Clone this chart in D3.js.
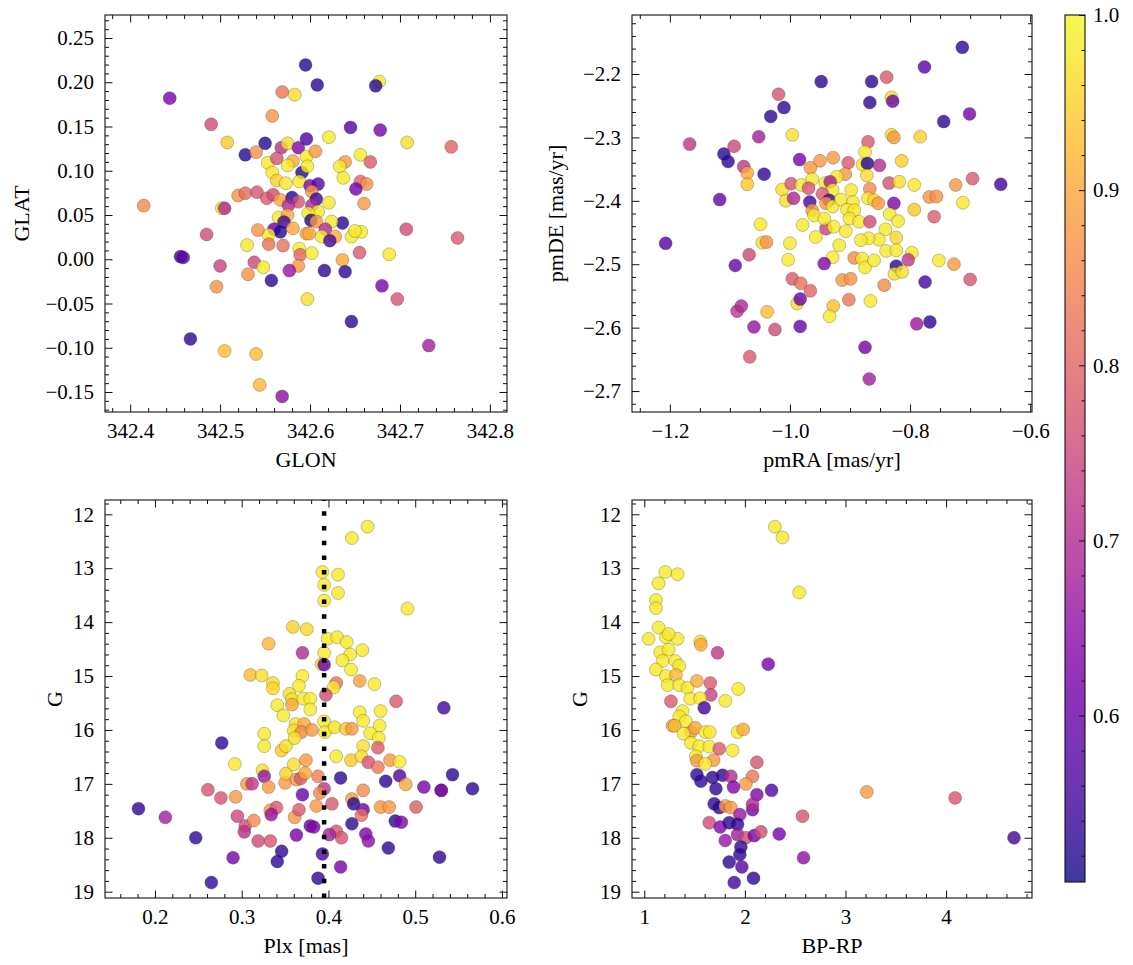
<!DOCTYPE html>
<html><head><meta charset="utf-8">
<script src="https://cdn.jsdelivr.net/npm/d3@7"></script>
<style>body{margin:0;background:#fff} svg{display:block} svg text{font-family:"Liberation Serif","DejaVu Serif",serif;}</style>
</head><body>
<svg id="chart" width="1133" height="965"></svg>
<script>
// ---------------- DATA ----------------
// membership probability colour range
const probRange = [0.505, 1.0];
const probTicks = [0.6, 0.7, 0.8, 0.9, 1.0];

// Panel 1: GLON, GLAT, prob
const glonTicks = [342.4, 342.5, 342.6, 342.7, 342.8];
const glatTicks = [-0.15, -0.10, -0.05, 0.00, 0.05, 0.10, 0.15, 0.20, 0.25];
const posStars = [
[342.595,0.2196,0.52],[342.444,0.182,0.62],[342.569,0.189,0.83],[342.583,0.186,0.97],[342.490,0.1525,0.76],
[342.558,0.162,0.87],[342.508,0.132,0.94],[342.550,0.131,0.52],[342.528,0.118,0.52],[342.540,0.121,0.87],
[342.568,0.126,0.71],[342.575,0.131,0.97],[342.587,0.126,0.63],[342.596,0.136,0.56],[342.553,0.109,0.98],
[342.563,0.114,0.77],[342.581,0.111,0.90],[342.575,0.106,0.98],[342.558,0.098,0.98],[342.591,0.098,0.52],
[342.563,0.089,0.95],[342.573,0.086,0.98],[342.588,0.088,0.98],[342.596,0.116,0.98],[342.520,0.072,0.87],
[342.528,0.0746,0.81],[342.541,0.0757,0.77],[342.552,0.069,0.78],[342.559,0.073,0.76],[342.567,0.067,0.90],
[342.580,0.0697,0.52],[342.587,0.065,0.77],[342.576,0.061,0.70],[342.502,0.0576,0.97],[342.505,0.0576,0.70],
[342.415,0.0606,0.86],[342.565,0.047,0.98],[342.575,0.050,0.90],[342.571,0.042,0.55],[342.560,0.034,0.60],
[342.567,0.031,0.52],[342.581,0.035,0.90],[342.554,0.0275,0.98],[342.542,0.033,0.87],[342.596,0.029,0.90],
[342.485,0.028,0.76],[342.530,0.016,0.98],[342.554,0.017,0.82],[342.570,0.0155,0.82],[342.588,0.012,0.98],
[342.589,0.005,0.80],[342.456,0.003,0.55],[342.459,0.002,0.58],[342.500,-0.0075,0.74],[342.538,-0.0034,0.75],
[342.548,-0.009,0.98],[342.587,-0.0075,0.88],[342.577,-0.0128,0.66],[342.531,-0.017,0.87],[342.557,-0.024,0.53],
[342.496,-0.031,0.87],[342.597,-0.045,0.97],[342.467,-0.090,0.53],[342.505,-0.1036,0.93],[342.540,-0.107,0.93],
[342.544,-0.142,0.92],[342.569,-0.155,0.65],
[342.608,0.197,0.53],[342.677,0.2008,0.98],[342.673,0.196,0.52],[342.645,0.149,0.57],[342.678,0.146,0.62],
[342.708,0.132,0.97],[342.757,0.127,0.80],[342.621,0.138,0.98],[342.606,0.122,0.88],[342.656,0.118,0.98],
[342.667,0.110,0.78],[342.639,0.110,0.88],[342.633,0.105,0.98],[342.597,0.105,0.98],[342.637,0.092,0.98],
[342.656,0.0878,0.80],[342.663,0.085,0.87],[342.651,0.0795,0.62],[342.600,0.083,0.63],[342.609,0.085,0.58],
[342.602,0.0765,0.88],[342.607,0.068,0.55],[342.621,0.064,0.98],[342.660,0.063,0.88],[342.602,0.061,0.70],
[342.609,0.054,0.98],[342.598,0.052,0.98],[342.601,0.044,0.52],[342.607,0.0426,0.88],[342.636,0.041,0.53],
[342.624,0.0426,0.98],[342.617,0.034,0.70],[342.599,0.029,0.90],[342.613,0.0256,0.98],[342.628,0.0256,0.90],
[342.622,0.021,0.55],[342.646,0.0256,0.98],[342.657,0.031,0.98],[342.650,0.032,0.98],[342.707,0.034,0.76],
[342.764,0.024,0.78],[342.602,0.007,0.98],[342.655,0.0075,0.78],[342.688,0.0056,0.98],[342.636,-0.0008,0.90],
[342.616,-0.0128,0.53],[342.639,-0.014,0.53],[342.680,-0.030,0.62],[342.697,-0.045,0.77],[342.646,-0.0704,0.53],
[342.732,-0.0975,0.68]
];

// Panel 2: pmRA, pmDE, prob
const pmraTicks = [-1.2, -1.0, -0.8, -0.6];
const pmdeTicks = [-2.7, -2.6, -2.5, -2.4, -2.3, -2.2];
const pmStars = [
[-1.207,-2.467,0.58],[-1.167,-2.3105,0.72],[-1.117,-2.398,0.60],[-1.110,-2.326,0.53],[-1.103,-2.338,0.53],
[-1.093,-2.314,0.75],[-1.077,-2.346,0.72],[-1.071,-2.356,0.90],[-1.071,-2.374,0.94],[-1.091,-2.502,0.60],
[-1.068,-2.485,0.75],[-1.088,-2.574,0.72],[-1.081,-2.566,0.70],[-1.067,-2.646,0.78],[-1.060,-2.599,0.66],
[-1.052,-2.299,0.68],[-1.043,-2.358,0.53],[-1.032,-2.267,0.53],[-1.019,-2.232,0.77],[-1.010,-2.253,0.53],
[-1.049,-2.437,0.98],[-1.046,-2.466,0.97],[-1.039,-2.465,0.87],[-1.038,-2.575,0.93],[-1.025,-2.603,0.76],
[-1.013,-2.382,0.97],[-1.007,-2.400,0.97],[-0.994,-2.396,0.70],[-0.996,-2.296,0.97],[-0.998,-2.373,0.77],
[-1.000,-2.467,0.98],[-1.003,-2.493,0.98],[-0.996,-2.523,0.78],[-0.982,-2.530,0.82],[-0.988,-2.562,0.97],
[-0.983,-2.555,0.60],[-0.983,-2.598,0.60],[-0.984,-2.335,0.62],[-0.981,-2.375,0.98],[-0.979,-2.438,0.98],
[-0.948,-2.212,0.53],[-0.864,-2.212,0.53],[-0.839,-2.205,0.78],[-0.867,-2.245,0.53],[-0.831,-2.237,0.97],
[-0.829,-2.243,0.60],[-0.776,-2.189,0.58],[-0.713,-2.158,0.53],[-0.744,-2.275,0.53],[-0.701,-2.263,0.62],
[-0.870,-2.307,0.78],[-0.831,-2.296,0.97],[-0.827,-2.300,0.88],[-0.783,-2.299,0.95],[-0.875,-2.323,0.98],
[-0.879,-2.343,0.98],[-0.871,-2.341,0.52],[-0.851,-2.344,0.70],[-0.814,-2.337,0.95],[-0.872,-2.360,0.97],
[-0.950,-2.337,0.88],[-0.928,-2.332,0.88],[-0.903,-2.340,0.78],[-0.908,-2.358,0.88],[-0.966,-2.348,0.88],
[-0.963,-2.366,0.98],[-0.922,-2.362,0.98],[-0.941,-2.372,0.98],[-0.933,-2.370,0.68],[-0.969,-2.380,0.77],
[-0.929,-2.383,0.98],[-0.946,-2.389,0.78],[-0.967,-2.402,0.55],[-0.935,-2.399,0.55],[-0.940,-2.404,0.88],
[-0.963,-2.415,0.88],[-0.960,-2.423,0.98],[-0.929,-2.409,0.98],[-0.915,-2.398,0.98],[-0.898,-2.383,0.98],
[-0.895,-2.402,0.98],[-0.905,-2.414,0.98],[-0.893,-2.415,0.98],[-0.867,-2.381,0.86],[-0.870,-2.396,0.98],
[-0.860,-2.399,0.96],[-0.853,-2.404,0.88],[-0.835,-2.372,0.77],[-0.818,-2.370,0.97],[-0.793,-2.375,0.98],
[-0.827,-2.404,0.63],[-0.793,-2.414,0.94],[-0.768,-2.394,0.87],[-0.756,-2.393,0.87],[-0.724,-2.375,0.88],
[-0.696,-2.365,0.78],[-0.649,-2.374,0.55],[-0.712,-2.403,0.98],[-0.760,-2.425,0.79],[-0.957,-2.457,0.98],
[-0.940,-2.444,0.74],[-0.927,-2.441,0.98],[-0.943,-2.428,0.98],[-0.901,-2.428,0.98],[-0.885,-2.433,0.98],
[-0.867,-2.433,0.76],[-0.834,-2.421,0.98],[-0.820,-2.432,0.98],[-0.841,-2.445,0.98],[-0.823,-2.458,0.96],
[-0.852,-2.461,0.98],[-0.869,-2.459,0.98],[-0.882,-2.462,0.98],[-0.907,-2.448,0.98],[-0.918,-2.470,0.98],
[-0.929,-2.489,0.98],[-0.943,-2.499,0.63],[-0.893,-2.490,0.86],[-0.880,-2.491,0.98],[-0.875,-2.505,0.98],
[-0.860,-2.494,0.98],[-0.840,-2.479,0.98],[-0.823,-2.478,0.98],[-0.797,-2.482,0.98],[-0.803,-2.493,0.72],
[-0.823,-2.503,0.53],[-0.826,-2.515,0.97],[-0.813,-2.512,0.97],[-0.752,-2.494,0.98],[-0.727,-2.500,0.88],
[-0.700,-2.524,0.77],[-0.775,-2.528,0.55],[-0.913,-2.525,0.88],[-0.899,-2.523,0.87],[-0.843,-2.533,0.86],
[-0.902,-2.556,0.83],[-0.928,-2.566,0.93],[-0.934,-2.582,0.98],[-0.866,-2.558,0.98],[-0.966,-2.542,0.80],
[-0.789,-2.594,0.67],[-0.767,-2.591,0.53],[-0.875,-2.631,0.62],[-0.868,-2.681,0.68]
];

// Panel 3: Plx, G, prob
const plxTicks = [0.2, 0.3, 0.4, 0.5, 0.6];
const gTicks = [12, 13, 14, 15, 16, 17, 18, 19];
const plxCut = 0.395;
const plxStars = [
[0.181,17.46,0.53],[0.212,17.62,0.68],[0.247,18.00,0.53],[0.265,18.83,0.53],[0.290,18.37,0.62],
[0.277,16.24,0.53],[0.261,17.11,0.77],[0.276,17.26,0.77],[0.292,16.63,0.98],[0.293,17.24,0.88],
[0.295,17.60,0.75],[0.304,17.78,0.76],[0.303,17.89,0.71],[0.314,17.68,0.86],[0.319,18.06,0.76],
[0.333,18.06,0.77],[0.346,18.25,0.53],[0.341,18.44,0.53],[0.306,17.00,0.88],[0.312,17.00,0.72],
[0.324,16.75,0.97],[0.326,16.86,0.66],[0.331,17.06,0.88],[0.333,17.49,0.88],[0.340,17.44,0.78],
[0.334,17.57,0.66],[0.361,17.62,0.88],[0.366,17.48,0.78],[0.363,17.95,0.62],[0.350,16.98,0.88],
[0.351,16.81,0.95],[0.360,16.64,0.97],[0.363,16.92,0.88],[0.368,16.90,0.78],[0.370,17.20,0.60],
[0.374,16.56,0.88],[0.373,16.80,0.90],[0.379,17.78,0.60],[0.326,16.07,0.98],[0.326,16.30,0.98],
[0.346,16.38,0.94],[0.351,16.30,0.97],[0.359,14.09,0.95],[0.375,14.13,0.96],[0.331,14.40,0.92],
[0.370,14.57,0.70],[0.310,14.98,0.93],[0.323,14.99,0.97],[0.336,15.13,0.97],[0.336,15.23,0.96],
[0.355,15.33,0.97],[0.358,15.43,0.97],[0.358,15.53,0.90],[0.370,15.00,0.98],[0.366,15.18,0.98],
[0.371,15.42,0.98],[0.341,15.54,0.98],[0.348,15.73,0.98],[0.362,15.89,0.97],[0.360,16.01,0.97],
[0.372,15.89,0.90],[0.369,16.04,0.86],[0.361,16.15,0.97],
[0.445,12.23,0.98],[0.427,12.44,0.98],[0.393,13.07,0.98],[0.411,13.12,0.98],[0.395,13.31,0.98],
[0.411,13.46,0.98],[0.395,13.60,0.98],[0.491,13.75,0.98],[0.399,14.31,0.98],[0.410,14.28,0.98],
[0.421,14.37,0.98],[0.439,14.52,0.98],[0.425,14.60,0.98],[0.416,14.71,0.98],[0.426,14.88,0.98],
[0.395,14.57,0.98],[0.392,14.78,0.97],[0.395,14.79,0.60],[0.409,15.13,0.82],[0.406,15.21,0.98],
[0.397,15.35,0.76],[0.436,15.09,0.89],[0.453,15.15,0.98],[0.379,15.42,0.98],[0.379,15.62,0.98],
[0.478,15.47,0.78],[0.533,15.59,0.55],[0.436,15.67,0.98],[0.460,15.65,0.98],[0.440,15.83,0.98],
[0.459,15.92,0.98],[0.395,15.84,0.98],[0.396,16.04,0.98],[0.407,15.95,0.97],[0.420,15.98,0.94],
[0.427,15.98,0.88],[0.448,16.06,0.98],[0.458,16.15,0.98],[0.381,16.00,0.88],[0.440,16.30,0.97],
[0.457,16.33,0.78],[0.409,16.49,0.98],[0.426,16.56,0.94],[0.438,16.49,0.97],[0.446,16.60,0.77],
[0.457,16.69,0.83],[0.471,16.56,0.88],[0.482,16.59,0.98],[0.388,16.86,0.84],[0.414,16.89,0.53],
[0.395,17.09,0.72],[0.466,16.95,0.53],[0.482,16.85,0.57],[0.489,17.01,0.90],[0.510,17.06,0.62],
[0.543,16.83,0.53],[0.530,17.12,0.76],[0.530,17.12,0.60],[0.566,17.09,0.53],[0.390,17.17,0.85],
[0.404,17.37,0.78],[0.386,17.41,0.88],[0.427,17.28,0.88],[0.429,17.37,0.53],[0.440,17.12,0.86],
[0.440,17.48,0.60],[0.438,17.58,0.82],[0.460,17.43,0.88],[0.470,17.43,0.88],[0.501,17.43,0.79],
[0.477,17.69,0.53],[0.484,17.71,0.63],[0.383,17.80,0.63],[0.427,17.74,0.53],[0.409,17.88,0.77],
[0.415,18.00,0.77],[0.401,17.94,0.68],[0.443,17.93,0.63],[0.446,18.06,0.65],[0.469,18.19,0.53],
[0.528,18.36,0.53],[0.393,18.30,0.55],[0.414,18.54,0.62],[0.388,18.75,0.53]
];

// Panel 4: BP-RP, G, prob
const bprpTicks = [1, 2, 3, 4];
const cmdStars = [
[2.298,12.23,0.98],[2.374,12.43,0.98],[2.540,13.45,0.98],[1.209,13.07,0.98],[1.331,13.11,0.98],
[1.142,13.28,0.98],[1.116,13.59,0.98],[1.116,13.74,0.98],[1.142,14.10,0.98],[1.043,14.31,0.98],
[1.215,14.28,0.98],[1.331,14.31,0.98],[1.242,14.22,0.98],[1.556,14.36,0.97],[1.563,14.42,0.90],
[1.728,14.57,0.72],[2.232,14.78,0.62],[1.159,14.56,0.98],[1.242,14.51,0.98],[1.182,14.72,0.98],
[1.308,14.72,0.98],[1.116,14.88,0.98],[1.348,14.81,0.98],[1.215,15.00,0.98],[1.315,14.98,0.92],
[1.232,15.17,0.98],[1.348,15.17,0.98],[1.430,15.22,0.98],[1.523,15.09,0.90],[1.656,15.13,0.78],
[1.662,15.35,0.74],[1.457,15.42,0.98],[1.556,15.41,0.98],[1.596,15.59,0.55],[1.805,15.46,0.98],
[1.934,15.24,0.98],[1.265,15.47,0.78],[1.380,15.65,0.98],[1.348,15.75,0.98],[1.414,15.84,0.98],
[1.281,15.92,0.90],[1.302,15.92,0.92],[1.464,16.04,0.88],[1.391,16.07,0.98],[1.507,15.96,0.90],
[1.606,16.04,0.98],[1.652,16.04,0.98],[1.927,16.04,0.98],[1.983,15.99,0.90],[1.464,16.24,0.98],
[1.546,16.30,0.98],[1.646,16.31,0.98],[1.745,16.35,0.78],[1.877,16.38,0.98],[1.513,16.49,0.98],
[1.523,16.57,0.88],[1.689,16.56,0.88],[1.606,16.63,0.98],[2.119,16.60,0.77],[1.523,16.83,0.53],
[1.563,16.95,0.53],[1.679,16.88,0.53],[1.778,16.84,0.53],[1.861,16.86,0.70],[2.076,16.86,0.83],
[2.010,17.00,0.88],[1.712,17.09,0.53],[1.887,17.06,0.63],[2.119,17.20,0.63],[2.265,17.12,0.57],
[1.695,17.37,0.53],[1.745,17.44,0.53],[1.805,17.41,0.88],[1.861,17.44,0.88],[2.076,17.48,0.62],
[2.076,17.38,0.70],[1.950,17.57,0.66],[1.646,17.72,0.76],[1.755,17.80,0.63],[1.844,17.72,0.53],
[1.927,17.75,0.53],[1.805,18.05,0.66],[1.927,17.94,0.68],[2.010,18.00,0.76],[2.093,17.96,0.62],
[2.159,17.89,0.76],[2.341,17.93,0.62],[2.573,17.60,0.77],[2.583,18.37,0.65],[1.960,18.17,0.53],
[1.950,18.31,0.53],[1.844,18.45,0.53],[1.970,18.54,0.58],[1.894,18.83,0.55],[2.086,18.75,0.53],
[3.212,17.15,0.88],[4.090,17.26,0.77],[4.675,18.00,0.55]
];

// ---------------- CHART ----------------
const FONT = '"Liberation Serif", "DejaVu Serif", serif';
const FS = 21;
const svg = d3.select("#chart");
svg.append("rect").attr("width", 1133).attr("height", 965).attr("fill", "#fff");
const color = d3.scaleSequential(d3.interpolatePlasma).domain(probRange);

function minorTicks(domain, step, majors) {
  const lo = Math.min(...domain), hi = Math.max(...domain);
  const out = [];
  for (let i = Math.ceil(lo / step - 1e-9); i <= Math.floor(hi / step + 1e-9); i++) {
    const v = +(i * step).toFixed(6);
    if (!majors.some(m => Math.abs(m - v) < step / 10)) out.push(v);
  }
  return out;
}

function styleAxis(g) {
  g.select(".domain").remove();
  g.attr("font-family", null).attr("font-size", null);
  g.selectAll(".tick line").attr("stroke", "#111").attr("stroke-width", 1);
  g.selectAll(".tick text").attr("fill", "#000")
    .style("font-family", FONT).style("font-size", FS + "px");
}

let clipId = 0;
function panel(cfg) {
  const {x0, x1, y0, y1} = cfg;
  const x = d3.scaleLinear().domain(cfg.xDomain).range([x0, x1]);
  const y = d3.scaleLinear().domain(cfg.yDomain).range([y1, y0]);
  const id = "clip" + (clipId++);
  svg.append("clipPath").attr("id", id).append("rect")
    .attr("x", x0).attr("y", y0).attr("width", x1 - x0).attr("height", y1 - y0);

  const plot = svg.append("g").attr("clip-path", `url(#${id})`);
  plot.selectAll("circle").data(cfg.data).join("circle")
    .attr("cx", d => x(d[0])).attr("cy", d => y(d[1])).attr("r", 6.5)
    .attr("fill", d => color(d[2])).attr("fill-opacity", 0.8)
    .attr("stroke", "#2a2a2a").attr("stroke-opacity", 0.55).attr("stroke-width", 0.5);
  if (cfg.vline !== undefined) {
    plot.append("line")
      .attr("x1", x(cfg.vline)).attr("x2", x(cfg.vline))
      .attr("y1", y1).attr("y2", y0)
      .attr("stroke", "#000").attr("stroke-width", 4.5)
      .attr("stroke-dasharray", "4.5,10.2");
  }

  const xMin = minorTicks(cfg.xDomain, cfg.xMinor, cfg.xTicks);
  const yMin = minorTicks(cfg.yDomain, cfg.yMinor, cfg.yTicks);
  const MJ = 7.5, MN = 4;

  svg.append("g").attr("transform", `translate(0,${y1})`)
    .call(d3.axisBottom(x).tickValues(cfg.xTicks).tickSize(-MJ).tickPadding(11).tickFormat(cfg.xFmt)).call(styleAxis);
  svg.append("g").attr("transform", `translate(0,${y1})`)
    .call(d3.axisBottom(x).tickValues(xMin).tickSize(-MN).tickFormat("")).call(styleAxis);
  svg.append("g").attr("transform", `translate(0,${y0})`)
    .call(d3.axisTop(x).tickValues(cfg.xTicks).tickSize(-MJ).tickFormat("")).call(styleAxis);
  svg.append("g").attr("transform", `translate(0,${y0})`)
    .call(d3.axisTop(x).tickValues(xMin).tickSize(-MN).tickFormat("")).call(styleAxis);
  svg.append("g").attr("transform", `translate(${x0},0)`)
    .call(d3.axisLeft(y).tickValues(cfg.yTicks).tickSize(-MJ).tickPadding(11).tickFormat(cfg.yFmt)).call(styleAxis);
  svg.append("g").attr("transform", `translate(${x0},0)`)
    .call(d3.axisLeft(y).tickValues(yMin).tickSize(-MN).tickFormat("")).call(styleAxis);
  svg.append("g").attr("transform", `translate(${x1},0)`)
    .call(d3.axisRight(y).tickValues(cfg.yTicks).tickSize(-MJ).tickFormat("")).call(styleAxis);
  svg.append("g").attr("transform", `translate(${x1},0)`)
    .call(d3.axisRight(y).tickValues(yMin).tickSize(-MN).tickFormat("")).call(styleAxis);

  svg.append("rect").attr("x", x0).attr("y", y0).attr("width", x1 - x0).attr("height", y1 - y0)
    .attr("fill", "none").attr("stroke", "#111").attr("stroke-width", 1.1);

  svg.append("text").attr("x", (x0 + x1) / 2).attr("y", y1 + 55)
    .attr("text-anchor", "middle").style("font-family", FONT).style("font-size", (FS + 1) + "px")
    .text(cfg.xLabel);
  svg.append("text")
    .attr("transform", `translate(${cfg.yLabelX},${(y0 + y1) / 2}) rotate(-90)`)
    .attr("text-anchor", "middle").style("font-family", FONT).style("font-size", (FS + 1) + "px")
    .text(cfg.yLabel);
}

const fmt1 = d3.format(".1f"), fmt2 = d3.format(".2f"), fmtD = d3.format("d");

panel({x0: 105, x1: 507, y0: 15, y1: 412,
  xDomain: [342.372, 342.819], yDomain: [-0.1726, 0.276],
  xTicks: glonTicks, xMinor: 0.02, yTicks: glatTicks, yMinor: 0.01,
  xFmt: fmt1, yFmt: fmt2, xLabel: "GLON", yLabel: "GLAT", yLabelX: 29, data: posStars});

panel({x0: 632, x1: 1032, y0: 15, y1: 412,
  xDomain: [-1.263, -0.597], yDomain: [-2.733, -2.107],
  xTicks: pmraTicks, xMinor: 0.05, yTicks: pmdeTicks, yMinor: 0.02,
  xFmt: fmt1, yFmt: fmt1, xLabel: "pmRA [mas/yr]", yLabel: "pmDE [mas/yr]", yLabelX: 563, data: pmStars});

panel({x0: 105, x1: 507, y0: 500, y1: 898,
  xDomain: [0.1424, 0.6058], yDomain: [19.117, 11.735],
  xTicks: plxTicks, xMinor: 0.02, yTicks: gTicks, yMinor: 0.2,
  xFmt: fmt1, yFmt: fmtD, xLabel: "Plx [mas]", yLabel: "G", yLabelX: 62, data: plxStars, vline: plxCut});

panel({x0: 632, x1: 1032, y0: 500, y1: 898,
  xDomain: [0.878, 4.854], yDomain: [19.117, 11.735],
  xTicks: bprpTicks, xMinor: 0.2, yTicks: gTicks, yMinor: 0.2,
  xFmt: fmtD, yFmt: fmtD, xLabel: "BP-RP", yLabel: "G", yLabelX: 587, data: cmdStars});

// ---------------- COLORBAR ----------------
const cb = {x0: 1065, x1: 1085, y0: 15, y1: 882};
const cy = d3.scaleLinear().domain(probRange).range([cb.y1, cb.y0]);
const defs = svg.append("defs");
const grad = defs.append("linearGradient").attr("id", "cbgrad")
  .attr("x1", 0).attr("y1", 1).attr("x2", 0).attr("y2", 0);
d3.range(0, 1.0001, 0.02).forEach(t => {
  grad.append("stop").attr("offset", t).attr("stop-color", d3.interpolatePlasma(t)).attr("stop-opacity", 0.8);
});
svg.append("rect").attr("x", cb.x0).attr("y", cb.y0).attr("width", cb.x1 - cb.x0).attr("height", cb.y1 - cb.y0)
  .attr("fill", "url(#cbgrad)");
const cbMinor = minorTicks(probRange, 0.02, probTicks);
svg.append("g").attr("transform", `translate(${cb.x1},0)`)
  .call(d3.axisRight(cy).tickValues(probTicks).tickSize(-6).tickPadding(8).tickFormat(fmt1)).call(styleAxis);
svg.append("g").attr("transform", `translate(${cb.x1},0)`)
  .call(d3.axisRight(cy).tickValues(cbMinor).tickSize(-3.5).tickFormat("")).call(styleAxis);
svg.append("rect").attr("x", cb.x0).attr("y", cb.y0).attr("width", cb.x1 - cb.x0).attr("height", cb.y1 - cb.y0)
  .attr("fill", "none").attr("stroke", "#111").attr("stroke-width", 1.1);
</script>
</body></html>
